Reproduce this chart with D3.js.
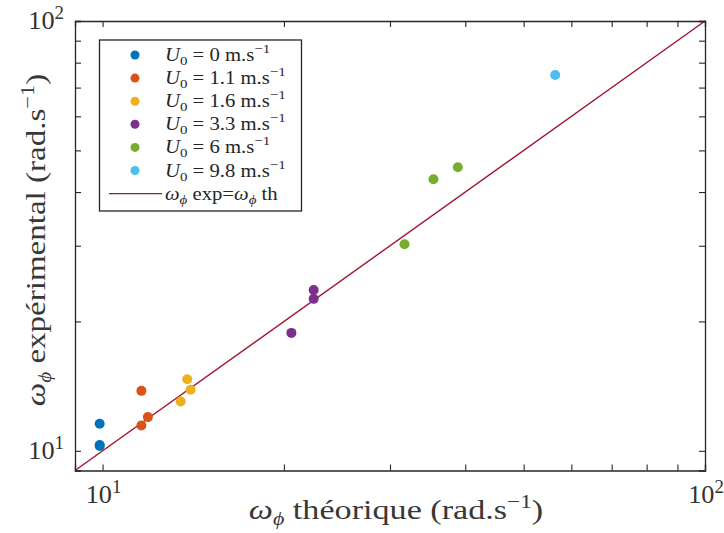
<!DOCTYPE html>
<html><head><meta charset="utf-8">
<script src="https://cdn.jsdelivr.net/npm/d3@7"></script>
<style>
body{margin:0;background:#fff;}
svg{display:block;}
text{font-family:"Liberation Serif","Times New Roman",serif;fill:#262626;}
</style></head>
<body>
<svg id="c" width="724" height="533"></svg>
<script>
// ---- data ----
const seriesNames = ["0", "1.1", "1.6", "3.3", "6", "9.8"];
const seriesColors = ["#0072BD", "#D95319", "#EDB120", "#7E2F8E", "#77AC30", "#4DBEEE"];
const thU0 = [9.89, 9.89, 9.89];
const expU0 = [11.56, 10.32, 10.26];
const thU1 = [11.60, 11.89, 11.60];
const expU1 = [13.79, 11.98, 11.45];
const thU2 = [13.82, 14.00, 13.48];
const expU2 = [14.68, 13.87, 13.02];
const thU3 = [22.41, 22.41, 20.58];
const expU3 = [23.68, 22.57, 18.81];
const thU4 = [31.71, 35.42, 38.88];
const expU4 = [30.25, 42.84, 45.68];
const thU5 = [56.4];
const expU5 = [74.9];
const thAll = [thU0, thU1, thU2, thU3, thU4, thU5];
const expAll = [expU0, expU1, expU2, expU3, expU4, expU5];
const xDomain = [9, 100];
const yDomain = [9, 100];
const majorTicks = [10, 100];
const minorTicks = [20, 30, 40, 50, 60, 70, 80, 90];
const lineColor = "#A2142F";

// ---- layout ----
const svg = d3.select("#c");
const L = 75, R = 705, T = 21, B = 470.5;
const x = d3.scaleLog().domain(xDomain).range([L, R]);
const y = d3.scaleLog().domain(yDomain).range([B, T]);
const axisCol = "#262626";

// reference line
svg.append("line")
  .attr("x1", x(xDomain[0])).attr("y1", y(yDomain[0]))
  .attr("x2", x(xDomain[1])).attr("y2", y(yDomain[1]))
  .attr("stroke", lineColor).attr("stroke-width", 1.4);

// points
thAll.forEach((xs, i) => {
  const pts = xs.map((v, j) => [v, expAll[i][j]]);
  svg.append("g").selectAll("circle").data(pts).enter().append("circle")
    .attr("cx", d => x(d[0])).attr("cy", d => y(d[1])).attr("r", 5)
    .attr("fill", seriesColors[i]);
});

// axes with inside ticks, box
const allTicks = majorTicks.concat(minorTicks);
const tl = 6;
const gAx = svg.append("g");
const axB = d3.axisBottom(x).tickValues(allTicks).tickSize(-tl).tickFormat("");
const axT = d3.axisTop(x).tickValues(allTicks).tickSize(-tl).tickFormat("");
const axL = d3.axisLeft(y).tickValues(allTicks).tickSize(-tl).tickFormat("");
const axR = d3.axisRight(y).tickValues(allTicks).tickSize(-tl).tickFormat("");
[[axB, `translate(0,${B})`], [axT, `translate(0,${T})`], [axL, `translate(${L},0)`], [axR, `translate(${R},0)`]].forEach(([ax, tr]) => {
  const g = gAx.append("g").attr("transform", tr).call(ax);
  g.selectAll("path.domain").attr("stroke", axisCol).attr("stroke-width", 1.3);
  g.selectAll(".tick line").attr("stroke", axisCol).attr("stroke-width", 1.1);
});

// tick labels
function powLabel(g, tx, ty, anchor, exp) {
  const t = g.append("text").attr("transform", `translate(${tx},${ty}) scale(1.05,1)`)
    .attr("text-anchor", anchor).attr("font-size", 25).style("fill", "#333");
  t.append("tspan").text("10");
  t.append("tspan").attr("font-size", 18).attr("dy", -10).text(exp);
  return t;
}
majorTicks.forEach(v => {
  powLabel(svg, x(v) + 1, 503, "middle", String(Math.round(Math.log10(v))));
  powLabel(svg, L - 11, y(v) + 8, "end", String(Math.round(Math.log10(v))));
});

// axis titles
function title(transform, rest) {
  const t = svg.append("text").attr("transform", transform).attr("text-anchor", "middle")
    .attr("font-size", 28).style("fill", "#383838");
  t.append("tspan").attr("font-style", "italic").text("ω");
  t.append("tspan").attr("font-style", "italic").attr("font-size", 18).attr("dy", 6).text("ϕ");
  t.append("tspan").attr("dy", -6).text(rest);
  t.append("tspan").attr("font-size", 19).attr("dy", -11).text("−1");
  t.append("tspan").attr("dy", 11).text(")");
  return t;
}
title("translate(396,519) scale(1.22,1)", " théorique (rad.s");
title("translate(45,240) rotate(-90) scale(1.18,1)", " expérimental (rad.s");

// legend
const lg = svg.append("g");
lg.append("rect").attr("x", 99.5).attr("y", 40).attr("width", 202).attr("height", 171)
  .attr("fill", "#fff").attr("stroke", axisCol).attr("stroke-width", 1.3);
seriesNames.forEach((n, i) => {
  const cy = 55 + i * 23.1;
  lg.append("circle").attr("cx", 135).attr("cy", cy).attr("r", 4.5).attr("fill", seriesColors[i]);
  const t = lg.append("text").attr("transform", `translate(165,${cy + 6}) scale(1.15,1)`).attr("font-size", 18);
  t.append("tspan").attr("font-style", "italic").text("U");
  t.append("tspan").attr("font-size", 13).attr("dy", 4).text("0");
  t.append("tspan").attr("dy", -4).text(" = " + n + " m.s");
  t.append("tspan").attr("font-size", 13).attr("dy", -8).text("−1");
});
const ly = 55 + 6 * 23.1;
lg.append("line").attr("x1", 109).attr("x2", 162).attr("y1", ly).attr("y2", ly)
  .attr("stroke", lineColor).attr("stroke-width", 1.4);
const lt = lg.append("text").attr("transform", `translate(165,${ly + 6}) scale(1.15,1)`).attr("font-size", 18);
lt.append("tspan").attr("font-style", "italic").text("ω");
lt.append("tspan").attr("font-style", "italic").attr("font-size", 13).attr("dy", 4).text("ϕ");
lt.append("tspan").attr("dy", -4).text(" exp=");
lt.append("tspan").attr("font-style", "italic").text("ω");
lt.append("tspan").attr("font-style", "italic").attr("font-size", 13).attr("dy", 4).text("ϕ");
lt.append("tspan").attr("dy", -4).text(" th");
</script>
</body></html>
